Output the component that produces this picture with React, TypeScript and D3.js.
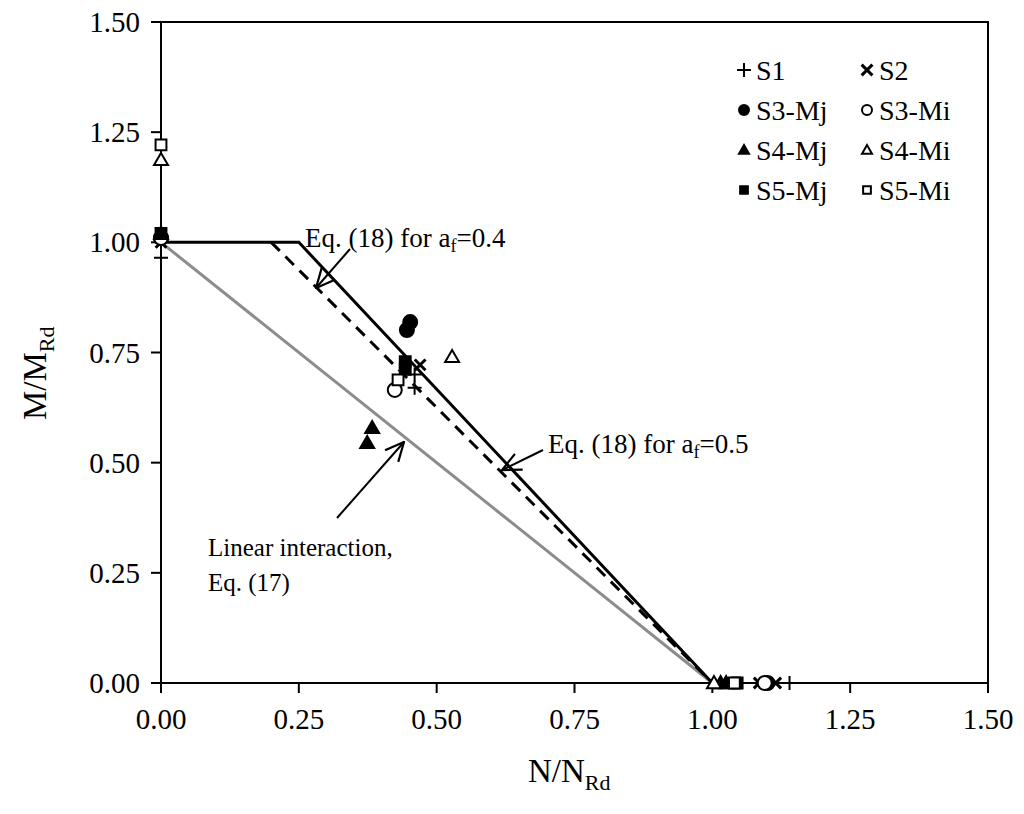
import React from 'react'
import * as d3 from 'd3'

// axis ticks
const xTicks = [0, 0.25, 0.5, 0.75, 1.0, 1.25, 1.5]
const yTicks = [0, 0.25, 0.5, 0.75, 1.0, 1.25, 1.5]

// design curves
const eq05N = [0, 0.25, 1.0]
const eq05M = [1.0, 1.0, 0]
const eq04N = [0.2, 1.0]
const eq04M = [1.0, 0]
const linN = [0, 1.0]
const linM = [1.0, 0]

// test results (N/NRd, M/MRd)
const s1N = [0, 0.46, 0.46, 1.14]
const s1M = [0.965, 0.70, 0.67, 0]
const s2N = [0, 0.47, 1.085, 1.115]
const s2M = [1.0, 0.722, 0, 0]
const s3MjN = [0, 0.452, 0.446, 1.1]
const s3MjM = [1.01, 0.819, 0.801, 0]
const s3MiN = [0, 0.424, 1.095]
const s3MiM = [1.01, 0.665, 0]
const s4MjN = [0, 0.374, 0.383, 1.015, 1.025]
const s4MjM = [1.02, 0.545, 0.579, 0, 0]
const s4MiN = [0, 0.528, 1.003]
const s4MiM = [1.187, 0.74, 0]
const s5MjN = [0, 0.443, 0.443, 1.045]
const s5MjM = [1.02, 0.729, 0.712, 0]
const s5MiN = [0, 0.43, 1.04]
const s5MiM = [1.221, 0.688, 0]

const series = [
  { name: 'S1', n: s1N, m: s1M, shape: 'plus', filled: true },
  { name: 'S2', n: s2N, m: s2M, shape: 'cross', filled: true },
  { name: 'S3-Mj', n: s3MjN, m: s3MjM, shape: 'circle', filled: true },
  { name: 'S3-Mi', n: s3MiN, m: s3MiM, shape: 'circle', filled: false },
  { name: 'S4-Mj', n: s4MjN, m: s4MjM, shape: 'triangle', filled: true },
  { name: 'S4-Mi', n: s4MiN, m: s4MiM, shape: 'triangle', filled: false },
  { name: 'S5-Mj', n: s5MjN, m: s5MjM, shape: 'square', filled: true },
  { name: 'S5-Mi', n: s5MiN, m: s5MiM, shape: 'square', filled: false },
]

const left = 161
const right = 988
const top = 22
const bottom = 683
const font = '"Liberation Serif", "Times New Roman", serif'

const x = d3.scaleLinear().domain([0, 1.5]).range([left, right])
const y = d3.scaleLinear().domain([0, 1.5]).range([bottom, top])

const Marker = ({ shape, filled, cx, cy, s }) => {
  if (shape === 'plus') {
    const h = s / 2
    return <path d={`M${cx - h},${cy}H${cx + h}M${cx},${cy - h}V${cy + h}`} stroke="#000" strokeWidth={2} />
  }
  if (shape === 'cross') {
    const h = s / 2.6
    return <path d={`M${cx - h},${cy - h}L${cx + h},${cy + h}M${cx - h},${cy + h}L${cx + h},${cy - h}`} stroke="#000" strokeWidth={3} />
  }
  const sym = shape === 'circle' ? d3.symbolCircle : shape === 'triangle' ? d3.symbolTriangle : d3.symbolSquare
  const area = shape === 'circle' ? Math.PI * (s / 2) ** 2 : shape === 'triangle' ? s * s * 0.43 : s * s * 0.6
  const ty = shape === 'triangle' ? cy + s * 0.08 : cy
  return (
    <path
      d={d3.symbol().type(sym).size(area)()}
      transform={`translate(${cx},${ty})`}
      fill={filled ? '#000' : '#fff'}
      stroke="#000"
      strokeWidth={2}
    />
  )
}

const App = () => {
  const line = d3.line().x((d) => x(d[0])).y((d) => y(d[1]))
  const pts = (n, m) => n.map((v, i) => [v, m[i]])

  return (
    <svg width={1024} height={814} style={{ position: 'absolute', left: 0, top: 0, background: '#fff' }} fontFamily={font}>
      <defs>
        <marker id="arr" viewBox="0 0 20 20" refX={19} refY={10} markerWidth={22} markerHeight={22} markerUnits="userSpaceOnUse" orient="auto">
          <path d="M2,2L19,10L2,18" fill="none" stroke="#000" strokeWidth={2} />
        </marker>
      </defs>

      {/* curves */}
      <path d={line(pts(linN, linM))} fill="none" stroke="#8c8c8c" strokeWidth={3} />
      <path d={line(pts(eq04N, eq04M))} fill="none" stroke="#000" strokeWidth={3} strokeDasharray="12,8" />
      <path d={line(pts(eq05N, eq05M))} fill="none" stroke="#000" strokeWidth={3} />

      {/* frame and ticks */}
      <rect x={left} y={top} width={right - left} height={bottom - top} fill="none" stroke="#000" strokeWidth={2} />
      {xTicks.map((t) => (
        <g key={'x' + t}>
          <line x1={x(t)} x2={x(t)} y1={bottom} y2={bottom + 10} stroke="#000" strokeWidth={2} />
          <text x={x(t)} y={bottom + 46} textAnchor="middle" fontSize={29}>{t.toFixed(2)}</text>
        </g>
      ))}
      {yTicks.map((t) => (
        <g key={'y' + t}>
          <line x1={left - 10} x2={left} y1={y(t)} y2={y(t)} stroke="#000" strokeWidth={2} />
          <text x={left - 21} y={y(t) + 10} textAnchor="end" fontSize={29}>{t.toFixed(2)}</text>
        </g>
      ))}

      {/* data */}
      {series.map((s) =>
        s.n.map((v, i) => (
          <Marker key={s.name + i} shape={s.shape} filled={s.filled} cx={x(v)} cy={y(s.m[i])} s={14} />
        ))
      )}

      {/* legend */}
      {series.map((s, i) => {
        const col = i % 2
        const row = Math.floor(i / 2)
        const lx = 744 + col * 123
        const ly = 70 + row * 40
        return (
          <g key={'leg' + s.name}>
            <Marker shape={s.shape} filled={s.filled} cx={lx} cy={ly} s={s.shape === 'plus' || s.shape === 'cross' ? 14 : 10} />
            <text x={lx + 12} y={ly + 10} fontSize={28}>{s.name}</text>
          </g>
        )
      })}

      {/* annotations */}
      <text x={305} y={247} fontSize={27}>
        Eq. (18) for a<tspan fontSize={18} dy={5}>f</tspan><tspan dy={-5}>=0.4</tspan>
      </text>
      <line x1={350} y1={249} x2={316} y2={288} stroke="#000" strokeWidth={2} markerEnd="url(#arr)" />

      <text x={548} y={453} fontSize={27}>
        Eq. (18) for a<tspan fontSize={18} dy={5}>f</tspan><tspan dy={-5}>=0.5</tspan>
      </text>
      <line x1={543} y1={450} x2={502} y2={470} stroke="#000" strokeWidth={2} markerEnd="url(#arr)" />

      <text x={208} y={556} fontSize={25}>Linear interaction,</text>
      <text x={208} y={591} fontSize={25}>Eq. (17)</text>
      <line x1={337} y1={518} x2={404} y2={442} stroke="#000" strokeWidth={2} markerEnd="url(#arr)" />

      {/* axis titles */}
      <text x={528} y={782} fontSize={33}>
        N/N<tspan fontSize={22} dy={8}>Rd</tspan>
      </text>
      <text transform="translate(46,420) rotate(-90)" fontSize={33}>
        M/M<tspan fontSize={22} dy={8}>Rd</tspan>
      </text>
    </svg>
  )
}

export default App
